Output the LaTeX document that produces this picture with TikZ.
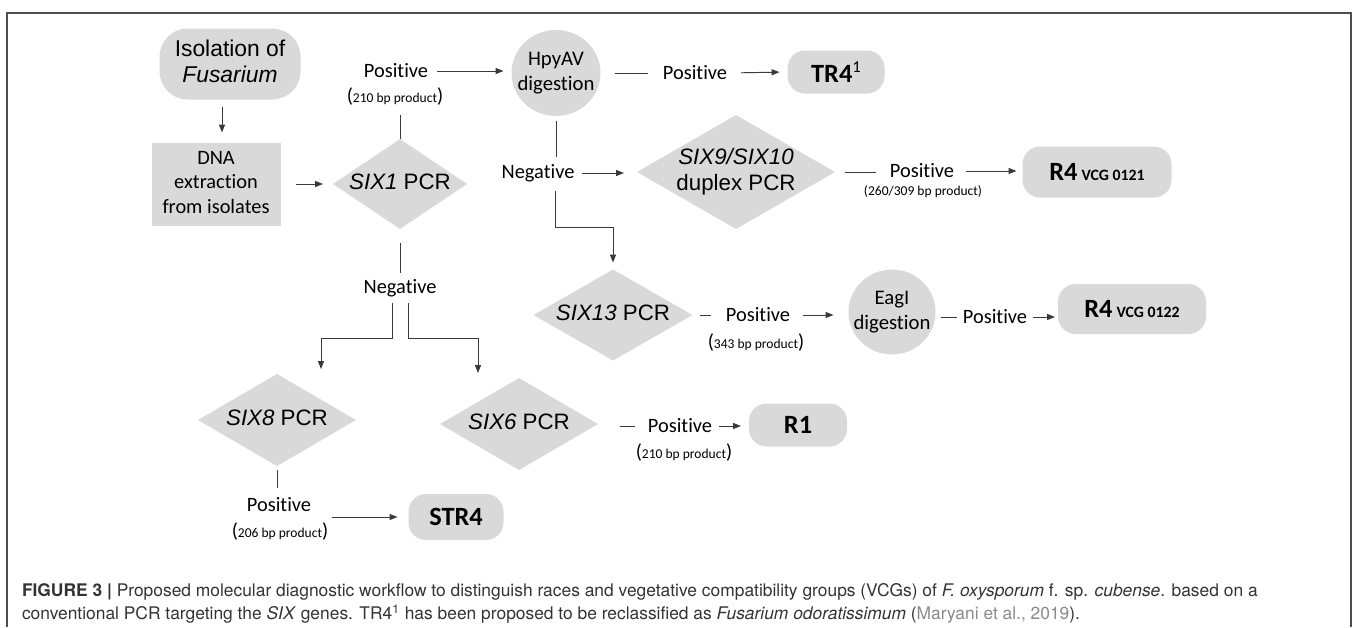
\documentclass[tikz,border=0pt]{standalone}
\usepackage{fontspec}
\setmainfont{Carlito}[Ligatures=NoCommon]
\newfontfamily\arialf{Liberation Sans}
\newfontfamily\helvf{TeX Gyre Heros}
\usetikzlibrary{shapes.geometric,arrows.meta,calc}
\definecolor{boxgray}{HTML}{D9D9D9}
\definecolor{linegray}{HTML}{3A3A3A}
\definecolor{framegray}{HTML}{4D4D4D}
\definecolor{capgray}{HTML}{333333}
\definecolor{citegray}{HTML}{8A8A8A}
\newdimen\PX \PX=0.02cm
\newcommand\ztext[1]{\makebox[0pt]{\begin{tabular}{@{}c@{}}#1\end{tabular}}}
\newcommand\bpp[1]{{\fontsize{11.5}{13}\selectfont(}{\fontsize{7.7}{9}\selectfont #1}{\fontsize{11.5}{13}\selectfont)}}
\newcommand\lblfont{\fontsize{11.6}{13}\selectfont}
\newcommand\arfont{\arialf\fontsize{12.7}{15}\selectfont}
\newcommand\bigb{\fontsize{15}{18}\selectfont\bfseries}
\newcommand\smallb{\fontsize{9}{11}\selectfont\bfseries}
\begin{document}
\begin{tikzpicture}[x=0.02cm,y=-0.02cm,
  every node/.style={inner sep=0pt, outer sep=0pt},
  gbox/.style={fill=boxgray, draw=none},
  rrect/.style={gbox, rectangle, rounded corners=10pt},
  dia/.style={gbox, diamond, font=\arfont},
  ell/.style={gbox, ellipse, font=\fontsize{11.8}{14}\selectfont},
  lbl/.style={font=\lblfont},
  conn/.style={draw=linegray, line width=0.55pt},
  arr/.style={conn, -{Triangle[length=4.5pt,width=3.4pt]}}
]
\useasboundingbox (0,0) rectangle (1358,627);
\draw[framegray, line width=1pt] (7,627) -- (7,13) -- (1351,13) -- (1351,627);

% nodes
\node[gbox, rectangle, rounded corners=16pt, minimum width=141\PX, minimum height=71\PX,
      font=\arialf\fontsize{13}{15}\selectfont] (iso) at (230,64)
      {\begin{tabular}{@{}c@{}}Isolation of\\ \textit{Fusarium}\end{tabular}};
\node[gbox, rectangle, minimum width=129\PX, minimum height=83\PX,
      font=\fontsize{11.6}{13.9}\selectfont] (dna) at (216,184)
      {\begin{tabular}{@{}c@{}}DNA\\ extraction\\ from isolates\end{tabular}};
\node[dia, minimum width=134\PX, minimum height=90\PX] (six1) at (400,184)
      {\ztext{\textit{SIX1} PCR}};
\node[lbl] (pos1) at (396,71) {Positive};
\node (pp1) at (395,97) {\bpp{210 bp product}};
\node[ell, minimum width=89\PX, minimum height=86\PX] (hpy) at (556,73)
      {\ztext{HpyAV\\ digestion}};
\node[lbl] (pos2) at (695,73) {Positive};
\node[rrect, minimum width=97\PX, minimum height=43\PX] (tr4) at (836,72)
      {{\bigb TR4}\raisebox{5.5pt}{\fontsize{9.5}{11}\selectfont 1}};
\node[lbl] (neg1) at (538,173) {Negative};
\node[dia, minimum width=198\PX, minimum height=114\PX] (six910) at (736,172)
      {\ztext{\textit{SIX9/SIX10}\\ duplex PCR}};
\node[lbl] (pos3) at (922,171) {Positive};
\node[font=\fontsize{7.7}{9}\selectfont] (pp3) at (923,192) {(260/309 bp product)};
\node[rrect, minimum width=149\PX, minimum height=51\PX] (r4a) at (1097,172)
      {{\bigb R4} {\smallb VCG 0121}};
\node[dia, minimum width=159\PX, minimum height=91\PX] (six13) at (613,315)
      {\ztext{\textit{SIX13} PCR}};
\node[lbl] (pos4) at (758,315) {Positive};
\node (pp4) at (756,342) {\bpp{343 bp product}};
\node[ell, minimum width=87\PX, minimum height=85\PX] (eag) at (892,312)
      {\ztext{EagI\\ digestion}};
\node[lbl] (pos5) at (995,317) {Positive};
\node[rrect, minimum width=148\PX, minimum height=50\PX] (r4b) at (1132,309)
      {{\bigb R4} {\smallb VCG 0122}};
\node[lbl] (neg2) at (400,288) {Negative};
\node[dia, minimum width=158\PX, minimum height=92\PX] (six8) at (277,420)
      {\ztext{\textit{SIX8} PCR}};
\node[dia, minimum width=158\PX, minimum height=92\PX] (six6) at (519,424)
      {\ztext{\textit{SIX6} PCR}};
\node[lbl] (pos6) at (680,426) {Positive};
\node (pp6) at (684,452) {\bpp{210 bp product}};
\node[rrect, minimum width=98\PX, minimum height=43\PX] (r1) at (798,425) {\bigb R1};
\node[lbl] (pos7) at (279,505) {Positive};
\node (pp7) at (280,531) {\bpp{206 bp product}};
\node[rrect, minimum width=95\PX, minimum height=46\PX] (str4) at (456,517) {\bigb STR4};

% connectors
\draw[arr] ($(iso.south)+(-8,7)$) -- ($(dna.north)+(6,-10)$);
\draw[arr, shorten <=15\PX, shorten >=10\PX] (dna.east) -- (six1.west);
\draw[conn] (six1.north) -- ++(0,-24);
\draw[arr, shorten <=9\PX, shorten >=8\PX] (pos1.east) -- (pos1.east -| hpy.west);
\draw[conn, shorten <=14\PX, shorten >=15\PX] (hpy.east) -- (pos2.west);
\draw[arr, shorten <=14\PX, shorten >=8\PX] (pos2.east) -- (tr4.west);
\draw[conn, shorten <=5\PX, shorten >=7\PX] (hpy.south) -- (hpy.south |- neg1.north);
\draw[arr, shorten <=8\PX, shorten >=13\PX] (neg1.east) -- (neg1.east -| six910.west);
\draw[conn, shorten <=10\PX, shorten >=14\PX] (six910.east) -- (six910.east -| pos3.west);
\draw[arr, shorten <=12\PX, shorten >=6\PX] (pos3.east) -- (pos3.east -| r4a.west);
\draw[arr] ($(neg1.south)+(17,9)$) -- ++(0,37) -| ($(six13.north)+(0,-7)$);
\draw[conn, shorten <=7\PX, shorten >=15\PX] (six13.east) -- (pos4.west);
\draw[arr, shorten <=13\PX, shorten >=15\PX] (pos4.east) -- (pos4.east -| eag.west);
\draw[conn, shorten <=5\PX, shorten >=6\PX] (pos5.west -| eag.east) -- (pos5.west);
\draw[arr, shorten <=6\PX, shorten >=3\PX] (pos5.east) -- (pos5.east -| r4b.west);
\draw[conn, shorten <=14\PX, shorten >=6\PX] (six1.south) -- (neg2.north);
\draw[arr] ($(neg2.south)+(-8,6)$) -- ++(0,36) -| ($(six8.north)+(44,-5)$);
\draw[arr] ($(neg2.south)+(8,6)$) -- ++(0,36) -| ($(six6.north)+(-41,-5)$);
\draw[conn, shorten <=22\PX, shorten >=13\PX] (pos6.west -| six6.east) -- (pos6.west);
\draw[arr, shorten <=7\PX, shorten >=8\PX] (pos6.east) -- (pos6.east -| r1.west);
\draw[conn, shorten <=4\PX] (six8.south) -- ++(0,22);
\draw[arr] ($(pos7.east)+(21,12)$) -- ($(str4.west)+(-11,0)$);

% caption
\node[anchor=west, font=\helvf\fontsize{9.9}{12}\selectfont, text=capgray] (cap1) at (22,592)
  {\textbf{FIGURE 3 |} Proposed molecular diagnostic workflow to distinguish races and vegetative compatibility groups (VCGs) of \textit{F. oxysporum} f. sp. \textit{cubense}. based on a};
\node[anchor=west, font=\helvf\fontsize{9.9}{12}\selectfont, text=capgray] (cap2) at (22,614)
  {conventional PCR targeting the \textit{SIX} genes. TR4\textsuperscript{1} has been proposed to be reclassified as \textit{Fusarium odoratissimum} ({\color{citegray}Maryani et al., 2019}).};
\end{tikzpicture}
\end{document}
